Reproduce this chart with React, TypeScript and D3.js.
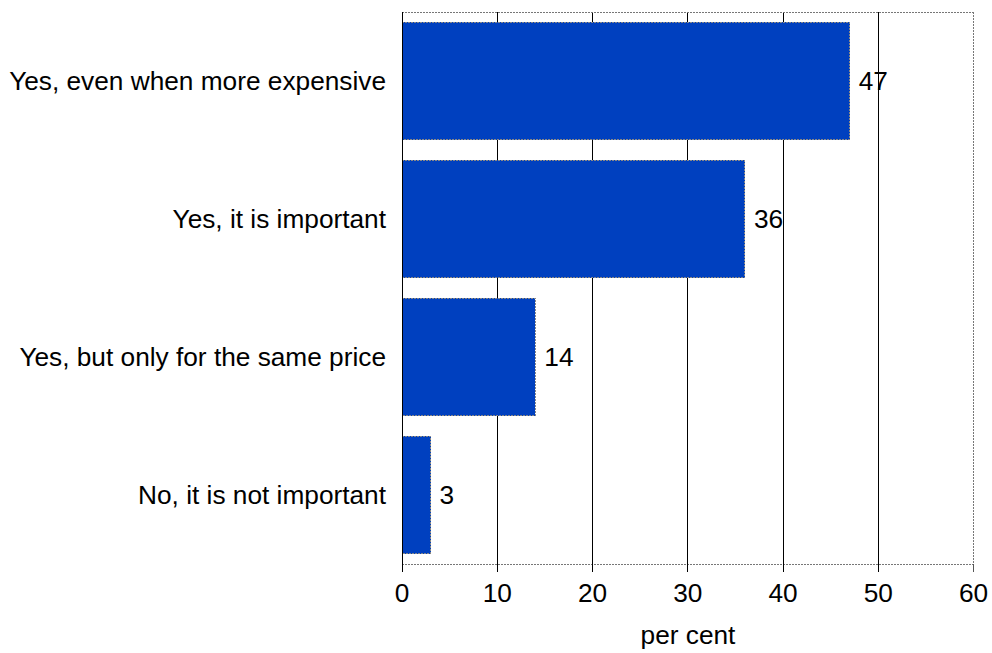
import React from "react";
import * as d3 from "d3";

const categories = [
  "Yes, even when more expensive",
  "Yes, it is important",
  "Yes, but only for the same price",
  "No, it is not important",
];
const values = [47, 36, 14, 3];
const xTicks = [0, 10, 20, 30, 40, 50, 60];
const xTitle = "per cent";

const SX = 1.05;

function T(props: { x: number; y: number; anchor: "start" | "middle" | "end"; children: React.ReactNode }) {
  return (
    <text transform={`translate(${props.x},${props.y}) scale(${SX},1)`} textAnchor={props.anchor}
      fontFamily="Arial, 'Liberation Sans', sans-serif" fontSize={25} fill="#000">{props.children}</text>
  );
}

export default function App() {
  const W = 992, H = 653;
  const left = 402, right = 973.5, top = 12, bottom = 564;
  const x = d3.scaleLinear().domain([0, 60]).range([left, right]);
  const y = d3.scaleBand<string>().domain(categories).range([top, bottom]).paddingInner(0.152).paddingOuter(0.076);
  return (
    <div style={{ position: "absolute", left: 0, top: 0 }}>
      <svg width={W} height={H} style={{ display: "block", background: "#fff" }}>
        {xTicks.filter(t => t > 0 && t < 60).map(t => (
          <line key={"g" + t} x1={x(t)} x2={x(t)} y1={top} y2={bottom} stroke="#000" strokeWidth={1} shapeRendering="crispEdges" />
        ))}
        <line x1={left} x2={right} y1={top} y2={top} stroke="#777" strokeDasharray="2,1" strokeWidth={1} shapeRendering="crispEdges" />
        <line x1={right} x2={right} y1={top} y2={bottom} stroke="#777" strokeDasharray="2,1" strokeWidth={1} shapeRendering="crispEdges" />
        <line x1={left} x2={right} y1={bottom} y2={bottom} stroke="#777" strokeDasharray="2,1" strokeWidth={1} shapeRendering="crispEdges" />
        {categories.map((c, i) => (
          <rect key={c} x={x(0)} y={y(c)!} width={x(values[i]) - x(0)} height={y.bandwidth()}
            fill="#0040BF" stroke="#888" strokeDasharray="2,1" strokeWidth={1} shapeRendering="crispEdges" />
        ))}
        <line x1={left} x2={left} y1={top} y2={bottom + 8} stroke="#000" strokeWidth={1} shapeRendering="crispEdges" />
        {xTicks.map(t => (
          <g key={"t" + t}>
            <line x1={x(t)} x2={x(t)} y1={bottom} y2={bottom + 8} stroke={t === 60 ? "#555" : "#000"} strokeWidth={1} shapeRendering="crispEdges" />
            <T x={x(t)} y={601.5} anchor="middle">{t}</T>
          </g>
        ))}
        {categories.map(c => (
          <T key={"c" + c} x={386} y={y(c)! + y.bandwidth() / 2 + 9} anchor="end">{c}</T>
        ))}
        {categories.map((c, i) => (
          <T key={"v" + c} x={x(values[i]) + 9} y={y(c)! + y.bandwidth() / 2 + 9} anchor="start">{values[i]}</T>
        ))}
        <T x={688} y={644} anchor="middle">{xTitle}</T>
      </svg>
    </div>
  );
}
